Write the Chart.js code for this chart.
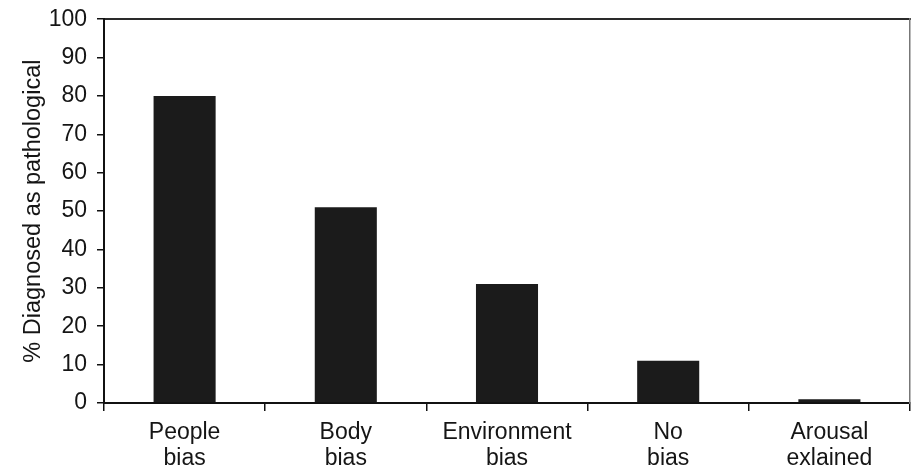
<!DOCTYPE html>
<html>
<head>
<meta charset="utf-8">
<script src="https://cdn.jsdelivr.net/npm/chart.js@4.4.1/dist/chart.umd.min.js"></script>
<style>
  html, body { margin: 0; padding: 0; background: #ffffff; }
  #wrap { width: 912px; height: 467px; }
</style>
</head>
<body>
<div id="wrap"><canvas id="c" width="912" height="467"></canvas></div>
<script>
const categories = [["People", "bias"], ["Body", "bias"], ["Environment", "bias"], ["No", "bias"], ["Arousal", "exlained"]];
const pctPathological = [80, 51, 31, 11, 1];
const yTicks = [0, 10, 20, 30, 40, 50, 60, 70, 80, 90, 100];
const yTitle = "% Diagnosed as pathological";

const FONT = "'Liberation Sans', Arial, sans-serif";
const TXT = "#151515";

new Chart(document.getElementById('c'), {
  type: 'bar',
  data: {
    labels: categories,
    datasets: [{
      data: pctPathological,
      backgroundColor: '#1b1b1b',
      borderWidth: 0,
      categoryPercentage: 1.0,
      barPercentage: 0.385
    }]
  },
  options: {
    responsive: false,
    animation: false,
    devicePixelRatio: 1,
    layout: { padding: { left: 0, right: 2, top: 18, bottom: 0 } },
    plugins: { legend: { display: false }, tooltip: { enabled: false } },
    scales: {
      x: {
        type: 'category',
        position: 'bottom',
        offset: true,
        grid: { display: true, offset: true, drawOnChartArea: false, drawTicks: true, tickLength: 8, color: '#111', lineWidth: 1.5 },
        border: { display: true, color: '#111', width: 2 },
        ticks: { color: TXT, font: { family: FONT, size: 23, lineHeight: 1.13 }, padding: 9, maxRotation: 0, autoSkip: false },
        afterFit: (s) => { s.height = 64; }
      },
      xTop: {
        type: 'category',
        position: 'top',
        labels: categories.map((c, i) => String(i)),
        grid: { display: false },
        ticks: { display: false },
        border: { display: true, color: '#2a2a2a', width: 2 },
        afterFit: (s) => { s.height = 0; }
      },
      y: {
        type: 'linear',
        position: 'left',
        min: 0,
        max: 100,
        afterBuildTicks: (s) => { s.ticks = yTicks.map(v => ({ value: v })); },
        grid: { display: true, drawOnChartArea: false, drawTicks: true, tickLength: 7, color: '#111', lineWidth: 1.5 },
        border: { display: true, color: '#111', width: 2 },
        ticks: { color: TXT, font: { family: FONT, size: 23, lineHeight: 0.8 }, padding: 10 },
        title: { display: true, text: yTitle, color: TXT, font: { family: FONT, size: 23.5 }, padding: { top: 19, bottom: 0 } },
        afterFit: (s) => { s.width = 104; }
      },
      yRight: {
        type: 'linear',
        position: 'right',
        min: 0,
        max: 100,
        grid: { display: false },
        ticks: { display: false },
        border: { display: true, color: '#777', width: 1.5 },
        afterFit: (s) => { s.width = 0; }
      }
    }
  }
});
</script>
</body>
</html>
